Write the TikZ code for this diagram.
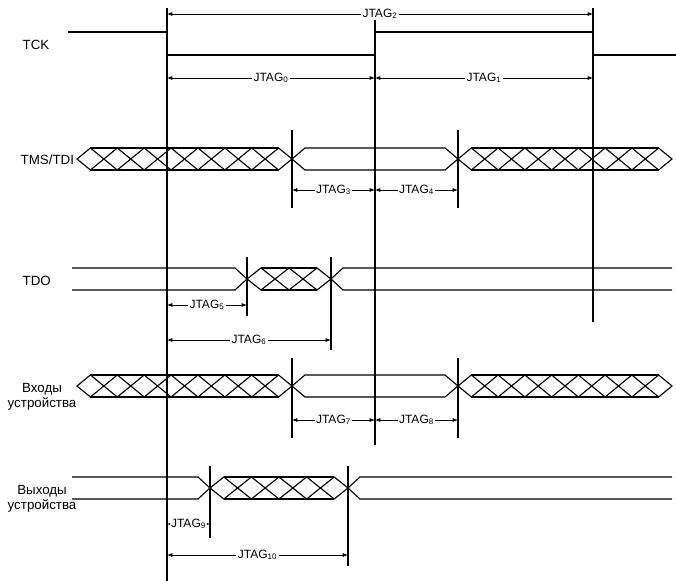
\documentclass[tikz,border=0pt]{standalone}
\usepackage{fontspec}
\setmainfont{Liberation Sans}
\usetikzlibrary{arrows.meta}
\begin{document}
\begin{tikzpicture}[x=0.75pt,y=-0.75pt,
  sig/.style={line width=0.85pt},
  wave/.style={line width=1.5pt},
  dim/.style={line width=0.6pt,{Latex[length=4pt,width=3pt]}-{Latex[length=4pt,width=3pt]}},
  lbl/.style={fill=white,inner sep=1pt,font=\fontsize{9pt}{10pt}\selectfont},
  sname/.style={anchor=west,font=\fontsize{10pt}{11pt}\selectfont,align=left}]
\useasboundingbox (0,0) rectangle (676,581);
\newcommand{\hatchbus}[4]{%
  \foreach \k in {1,...,#3}{%
    \draw[sig] ({#1+(\k-1)*#2},#4) -- ({#1+(\k-0.5)*#2},#4-11) -- ({#1+\k*#2},#4) -- ({#1+(\k-0.5)*#2},#4+11) -- cycle;}
  \draw[sig] ({#1+0.5*#2},#4-11) -- ({#1+(#3-0.5)*#2},#4-11);
  \draw[sig] ({#1+0.5*#2},#4+11) -- ({#1+(#3-0.5)*#2},#4+11);}
% labels
\node[sname] (l1) at (18,45) {TCK};
\node[sname] (l2) at (16,160) {TMS/TDI};
\node[sname] (l3) at (18,281) {TDO};
\node[sname,align=center] (l4) at (3,397) {Входы\\устройства};
\node[sname,align=center] (l5) at (3,499) {Выходы\\устройства};
% TCK
\draw[wave] (68,32) -- (167,32) -- (167,55) -- (375,55) -- (375,32) -- (593,32) -- (593,55) -- (676,55);
% verticals
\coordinate (v0t) at (167,8); \coordinate (v0b) at (167,581);
\coordinate (v1t) at (375,8); \coordinate (v1b) at (375,445);
\coordinate (v2t) at (593,8); \coordinate (v2b) at (593,322);
\draw[sig] (v0t)--(v0b); \draw[sig] (v1t)--(v1b); \draw[sig] (v2t)--(v2b);
% TMS/TDI
\hatchbus{77}{26.875}{8}{159}
\draw[sig] (292,159) -- (305,148) -- (445,148) -- (458,159) -- (445,170) -- (305,170) -- cycle;
\hatchbus{458}{26.75}{8}{159}
\draw[sig] (292,130)--(292,208); \draw[sig] (458,130)--(458,208);
% TDO
\draw[sig] (72,268) -- (235,268) -- (247,279) -- (235,290) -- (72,290);
\hatchbus{247}{28}{3}{279}
\draw[sig] (672,268) -- (343,268) -- (331,279) -- (343,290) -- (672,290);
\draw[sig] (247,257)--(247,316); \draw[sig] (331,257)--(331,350);
% Inputs
\hatchbus{77}{26.875}{8}{386}
\draw[sig] (292,386) -- (305,375) -- (445,375) -- (458,386) -- (445,397) -- (305,397) -- cycle;
\hatchbus{458}{26.75}{8}{386}
\draw[sig] (292,358)--(292,438); \draw[sig] (458,358)--(458,438);
% Outputs
\draw[sig] (72,477) -- (198,477) -- (210,488) -- (198,499) -- (72,499);
\hatchbus{210}{27.6}{5}{488}
\draw[sig] (672,477) -- (360,477) -- (348,488) -- (360,499) -- (672,499);
\draw[sig] (210,466)--(210,538); \draw[sig] (348,466)--(348,566);
% dimensions
\newcommand{\dimline}[4]{\draw[dim] (#1,#3) -- node[lbl] {JTAG$_{\mathrm{#4}}$} (#2,#3);}
\dimline{167}{593}{14}{2}
\dimline{167}{375}{78}{0}
\dimline{375}{593}{78}{1}
\dimline{292}{375}{190}{3}
\dimline{375}{458}{190}{4}
\dimline{167}{247}{305}{5}
\dimline{167}{331}{340}{6}
\dimline{292}{375}{420}{7}
\dimline{375}{458}{420}{8}
\dimline{167}{210}{524}{9}
\dimline{167}{348}{555}{10}
\end{tikzpicture}
\end{document}
